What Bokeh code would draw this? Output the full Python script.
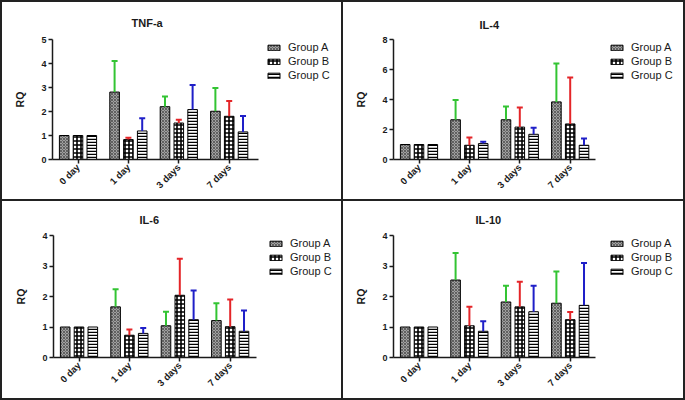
from math import pi
from bokeh.plotting import figure
from bokeh.layouts import row, column
from bokeh.models import (ColumnDataSource, Whisker, TeeHead, FixedTicker, Range1d,
                          Legend, LegendItem, Spacer)
from bokeh.transform import dodge
from bokeh.embed import file_html
from bokeh.resources import INLINE

days = ["0 day", "1 day", "3 days", "7 days"]
groups = ["Group A", "Group B", "Group C"]

# TNF-a
tnf_a = [1.0, 2.81, 2.20, 2.01]
tnf_b = [1.0, 0.83, 1.52, 1.80]
tnf_c = [1.0, 1.19, 2.08, 1.15]
tnf_a_up = [None, 4.10, 2.63, 2.98]
tnf_b_up = [None, 0.91, 1.66, 2.44]
tnf_c_up = [None, 1.72, 3.10, 1.81]

# IL-4
il4_a = [1.0, 2.65, 2.65, 3.84]
il4_b = [1.0, 0.95, 2.16, 2.37]
il4_c = [1.0, 1.06, 1.68, 0.95]
il4_a_up = [None, 3.97, 3.53, 6.40]
il4_b_up = [None, 1.47, 3.47, 5.47]
il4_c_up = [None, 1.19, 2.11, 1.40]

# IL-6
il6_a = [1.0, 1.66, 1.04, 1.21]
il6_b = [1.0, 0.73, 2.04, 1.01]
il6_c = [1.0, 0.79, 1.24, 0.86]
il6_a_up = [None, 2.24, 1.50, 1.78]
il6_b_up = [None, 0.92, 3.24, 1.90]
il6_c_up = [None, 0.97, 2.20, 1.54]

# IL-10
il10_a = [1.0, 2.54, 1.82, 1.78]
il10_b = [1.0, 1.04, 1.66, 1.24]
il10_c = [1.0, 0.86, 1.50, 1.71]
il10_a_up = [None, 3.43, 2.35, 2.82]
il10_b_up = [None, 1.66, 2.48, 1.49]
il10_c_up = [None, 1.19, 2.35, 3.10]

tnf_ticks = [0, 1, 2, 3, 4, 5]
il4_ticks = [0, 2, 4, 6, 8]
il6_ticks = [0, 1, 2, 3, 4]
il10_ticks = [0, 1, 2, 3, 4]

FONT = "Liberation Sans"
LINE = "#222222"
OFFSETS = [-0.274, 0.0, 0.274]
BAR_W = 0.19
PITCH = 50.4      # px per category
C0 = 25.5         # px from y axis to first category centre
ERR_COLORS = ["#33c433", "#e42528", "#1f1fc8"]
BAR_STYLES = [
    dict(fill_color="#a0a0a0", hatch_pattern="diagonal_cross", hatch_color="#353535",
         hatch_scale=3, hatch_weight=0.6),
    dict(fill_color="white", hatch_pattern="cross", hatch_color="black",
         hatch_scale=4, hatch_weight=1.6),
    dict(fill_color="white", hatch_pattern="horizontal_line", hatch_color="black",
         hatch_scale=3, hatch_weight=1.5),
]
idx = list(range(len(days)))


def make_panel(title, series, uppers, ymax, ticks, width, height, fl, axis_len, ft, fb,
               title_off, t_stand, label_w):
    fr = 4
    fw = width - fl - fr
    x0 = -C0 / PITCH
    p = figure(x_range=Range1d(x0, x0 + fw / PITCH), y_range=Range1d(0, ymax),
               width=width, height=height,
               output_backend="svg", toolbar_location=None,
               min_border_left=fl, min_border_right=fr,
               min_border_top=ft, min_border_bottom=fb,
               outline_line_color=None, background_fill_color="white",
               border_fill_color="white")
    items = []
    for i, (vals, ups) in enumerate(zip(series, uppers)):
        src = ColumnDataSource(dict(x=idx, value=vals))
        r = p.vbar(x=dodge("x", OFFSETS[i]), top="value", width=BAR_W,
                   source=src, line_color="black", line_width=1, **BAR_STYLES[i])
        items.append(LegendItem(label=groups[i], renderers=[r]))
        ex = [k for k, u in zip(idx, ups) if u is not None]
        ev = [v for v, u in zip(vals, ups) if u is not None]
        eu = [u for u in ups if u is not None]
        esrc = ColumnDataSource(dict(x=ex, value=ev, upper=eu))
        w = Whisker(base=dodge("x", OFFSETS[i]), lower="value",
                    upper="upper", source=esrc, dimension="height",
                    line_color=ERR_COLORS[i], line_width=2, lower_head=None,
                    upper_head=TeeHead(size=6, line_color=ERR_COLORS[i], line_width=2),
                    level="annotation")
        p.add_layout(w)

    p.title.text = title
    p.title.text_font = FONT
    p.title.text_font_size = "11px"
    p.title.text_font_style = "bold"
    p.title.text_color = "#1a1a1a"
    p.title.align = "left"
    p.title.offset = title_off
    p.title.standoff = t_stand

    p.xgrid.visible = False
    p.ygrid.visible = False

    for ax in (p.xaxis[0], p.yaxis[0]):
        ax.axis_line_color = "#1a1a1a"
        ax.axis_line_width = 1.5
        ax.major_tick_line_color = "#1a1a1a"
        ax.major_tick_line_width = 1.5
        ax.major_tick_in = 0
        ax.major_tick_out = 4
        ax.minor_tick_line_color = None
        ax.major_label_text_font = FONT
        ax.major_label_text_font_style = "bold"
        ax.major_label_text_color = "#1a1a1a"
    p.yaxis.ticker = FixedTicker(ticks=ticks)
    p.yaxis.major_label_text_font_size = "9px"
    p.yaxis.major_label_standoff = 2
    p.yaxis.axis_label = "RQ"
    p.yaxis.axis_label_text_font = FONT
    p.yaxis.axis_label_text_font_size = "10.5px"
    p.yaxis.axis_label_text_font_style = "bold"
    p.yaxis.axis_label_text_color = "#1a1a1a"
    p.yaxis.axis_label_standoff = 12
    p.xaxis.ticker = FixedTicker(ticks=idx)
    p.xaxis.major_label_overrides = {k: d for k, d in zip(idx, days)}
    p.xaxis.bounds = (x0, x0 + axis_len / PITCH)
    p.xaxis.major_label_orientation = pi / 4
    p.xaxis.major_label_text_font_size = "9.5px"
    p.xaxis.major_label_standoff = 2

    lg = Legend(items=items, location="top_right")
    lg.border_line_color = None
    lg.background_fill_alpha = 0
    lg.padding = 0
    lg.margin = 2
    lg.spacing = 2
    lg.glyph_width = 15
    lg.glyph_height = 7
    lg.label_height = 12
    lg.label_width = label_w
    lg.label_standoff = 7
    lg.label_text_font = FONT
    lg.label_text_font_size = "11px"
    lg.label_text_line_height = 1.0
    lg.label_text_color = "#1a1a1a"
    p.add_layout(lg)
    return p


W1, W2, HH = 339, 340, 197
p1 = make_panel("TNF-a", [tnf_a, tnf_b, tnf_c], [tnf_a_up, tnf_b_up, tnf_c_up], 5, tnf_ticks,
                W1, HH, 50, 206, 37, 40, 79, 21, 47)
p2 = make_panel("IL-4", [il4_a, il4_b, il4_c], [il4_a_up, il4_b_up, il4_c_up], 8, il4_ticks,
                W2, HH, 50, 202, 33, 40, 86, 18, 46)
p3 = make_panel("IL-6", [il6_a, il6_b, il6_c], [il6_a_up, il6_b_up, il6_c_up], 4, il6_ticks,
                W1, HH, 51, 203, 34, 41, 86, 19, 45)
p4 = make_panel("IL-10", [il10_a, il10_b, il10_c], [il10_a_up, il10_b_up, il10_c_up], 4, il10_ticks,
                W2, HH, 50, 202, 33, 41, 82, 18.5, 46)


def vline(h):
    return Spacer(width=2, height=h, styles={"background-color": LINE})


def hline(w):
    return Spacer(width=w, height=2, styles={"background-color": LINE})


TOTAL_W = 2 + W1 + 2 + W2 + 2
layout = column(
    hline(TOTAL_W),
    row(vline(HH), p1, vline(HH), p2, vline(HH), spacing=0),
    hline(TOTAL_W),
    row(vline(HH), p3, vline(HH), p4, vline(HH), spacing=0),
    hline(TOTAL_W),
    spacing=0,
)

open("out.html", "w").write(file_html(layout, INLINE))
